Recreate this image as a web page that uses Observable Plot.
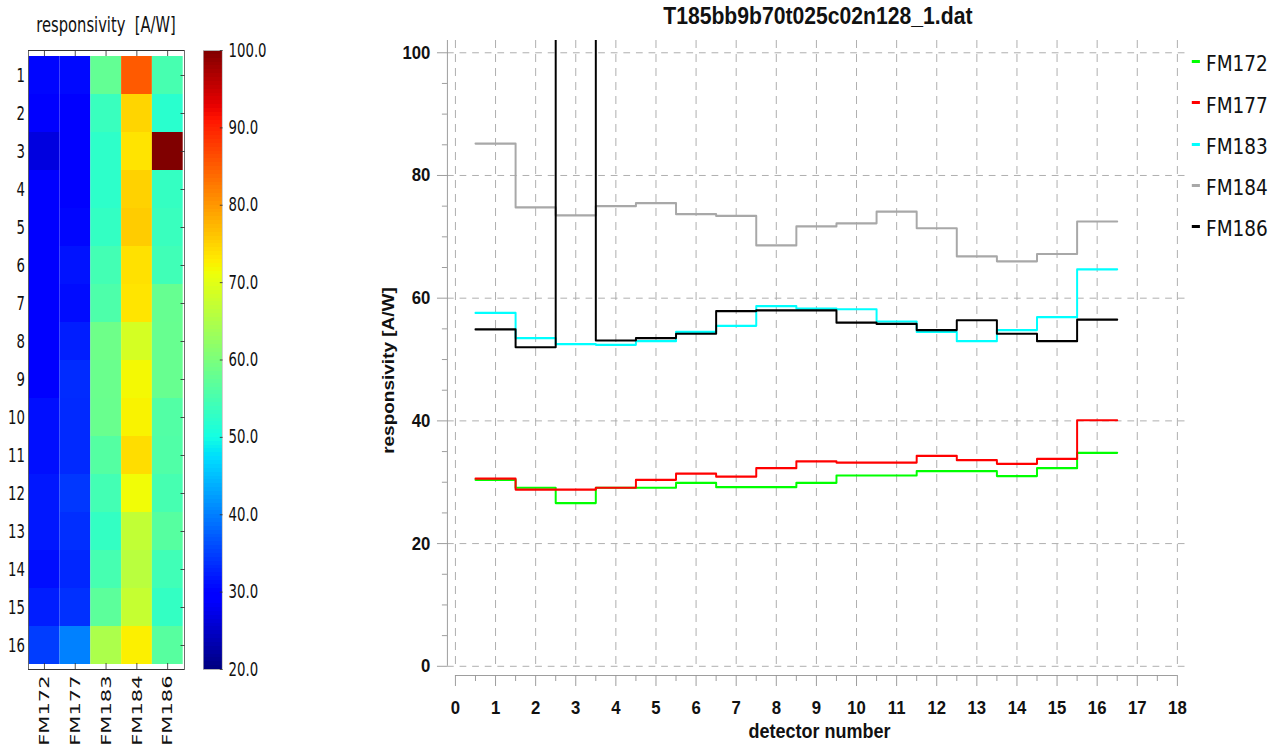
<!DOCTYPE html>
<html>
<head>
<meta charset="utf-8">
<script src="https://cdn.jsdelivr.net/npm/d3@7"></script>
<script src="https://cdn.jsdelivr.net/npm/@observablehq/plot@0.6"></script>
<style>
  html, body { margin: 0; padding: 0; background: #fff; }
  #page { position: relative; width: 1281px; height: 746px; overflow: hidden; background: #fff; }
  .panel { position: absolute; top: 0; height: 746px; transform-origin: 0 0; }
  .panel svg { position: absolute; top: 0; }
  .heat-title { position: absolute; left: 0; top: 15px; width: 303px; text-align: center;
    font: 21px/21px "DejaVu Sans", sans-serif; white-space: pre; color: #111; }
  .chart-title { position: absolute; left: 0; top: 5px; width: 973px; text-align: center;
    font: bold 23.5px/23.5px "Liberation Sans", Arial, sans-serif; color: #111; }
  .legend-swatch { position: absolute; width: 9px; height: 3px; }
  .legend-label { position: absolute; font: 20.5px/20.5px "DejaVu Sans", sans-serif; color: #111; white-space: nowrap; }
</style>
</head>
<body>
<div id="page">
  <div id="left" class="panel" style="left:0; width:400px; transform:scaleX(0.7);">
    <div class="heat-title">responsivity  [A/W]</div>
  </div>
  <div id="right" class="panel" style="left:380px; width:1001px; transform:scaleX(0.9);">
    <div class="chart-title">T185bb9b70t025c02n128_1.dat</div>
  </div>
</div>
<script>
// Flight models and their line colours
const models = ["FM172", "FM177", "FM183", "FM184", "FM186"];
const modelColors = ["#00ff00", "#ff0000", "#00ffff", "#a8a8a8", "#000000"];

// Detector numbers (rows of the map, steps of the profile plot)
const detectors = [1, 2, 3, 4, 5, 6, 7, 8, 9, 10, 11, 12, 13, 14, 15, 16];

// Responsivity per detector [A/W]
const fm172 = [30.4, 29.1, 26.6, 29.1, 29.1, 29.9, 29.2, 29.2, 29.9, 31.1, 31.1, 31.8, 31.8, 31.0, 32.3, 34.8];
const fm177 = [30.6, 28.8, 28.8, 29.1, 30.4, 31.4, 30.9, 32.3, 33.4, 33.2, 33.2, 34.3, 33.6, 33.0, 33.8, 40.1];
const fm183 = [57.6, 53.5, 52.5, 52.4, 53.0, 54.5, 55.5, 58.7, 58.3, 58.2, 56.2, 54.5, 53.0, 54.8, 56.9, 64.7];
const fm184 = [85.2, 74.8, 73.5, 75.0, 75.5, 73.7, 73.4, 68.6, 71.7, 72.2, 74.1, 71.4, 66.8, 66.0, 67.2, 72.5];
const fm186 = [54.9, 52.0, 130.0, 53.1, 53.5, 54.2, 57.9, 58.0, 58.0, 56.0, 55.8, 54.8, 56.4, 54.2, 53.0, 56.5];
const series = [fm172, fm177, fm183, fm184, fm186];

// Axis ticks
const colorbarTicks = [20, 30, 40, 50, 60, 70, 80, 90, 100];
const xTicks = [0, 1, 2, 3, 4, 5, 6, 7, 8, 9, 10, 11, 12, 13, 14, 15, 16, 17, 18];
const yTicks = [0, 20, 40, 60, 80, 100];

// Jet colour map (piecewise-linear channel segments)
const jetR = [[0, 0], [0.35, 0], [0.66, 1], [0.89, 1], [1, 0.5]];
const jetG = [[0, 0], [0.125, 0], [0.375, 1], [0.64, 1], [0.91, 0], [1, 0]];
const jetB = [[0, 0.5], [0.11, 1], [0.34, 1], [0.65, 0], [1, 0]];
function segment(stops, t) {
  for (let i = 1; i < stops.length; i++) {
    if (t <= stops[i][0]) {
      const [x0, y0] = stops[i - 1], [x1, y1] = stops[i];
      return y0 + (y1 - y0) * (t - x0) / (x1 - x0);
    }
  }
  return stops[stops.length - 1][1];
}
function jet(t) {
  const u = Math.max(0, Math.min(1, t));
  return d3.rgb(255 * segment(jetR, u), 255 * segment(jetG, u), 255 * segment(jetB, u)).formatHex();
}
const jetScale = {type: "linear", domain: [20, 100], interpolate: jet, clamp: true};

// Long table for the map: one cell per model and detector
const heatTable = models.flatMap((m, i) =>
  detectors.map((d, j) => ({model: m, det: d, value: series[i][j]})));

// Step table for the profile: each detector value spans det-0.5 .. det+0.5
const stepTable = models.flatMap((m, i) => {
  const pts = detectors.map((d, j) => ({model: m, x: d - 0.5, value: series[i][j]}));
  pts.push({model: m, x: detectors[detectors.length - 1] + 0.5, value: series[i][series[i].length - 1]});
  return pts;
});

const transparent = {background: "transparent", overflow: "visible"};

// ---------- left panel: detector map ----------
const left = document.getElementById("left");
const heat = Plot.plot({
  width: 400, height: 746,
  marginLeft: 40, marginRight: 137.1, marginTop: 50, marginBottom: 77,
  style: {...transparent, fontFamily: "'DejaVu Sans', sans-serif", fontSize: "19px", color: "#111"},
  x: {type: "band", domain: models, padding: 0, label: null},
  y: {type: "band", domain: detectors, padding: 0, label: null},
  color: jetScale,
  marks: [
    Plot.cell(heatTable, {x: "model", y: "det", fill: "value", inset: 0}),
    Plot.frame({stroke: "#333"}),
    Plot.axisX({anchor: "top", tickSize: 5, dy: 5, tickFormat: () => "", label: null, stroke: "#333"}),
    Plot.axisX({anchor: "bottom", tickSize: 6, dy: -6, tickFormat: () => "", label: null, stroke: "#333"}),
    Plot.axisX({anchor: "bottom", tickSize: 0, tickPadding: 6, tickRotate: -90, fontSize: 21, label: null}),
    Plot.axisY({anchor: "right", tickSize: 6, dx: -6, tickFormat: () => "", label: null, stroke: "#333"}),
    Plot.axisY({anchor: "left", tickSize: 0, tickPadding: 5, label: null})
  ]
});
heat.style.left = "0px";
left.appendChild(heat);

// colour bar
const levels = d3.range(20, 100, 0.5);
const bar = Plot.plot({
  width: 110, height: 746,
  marginLeft: 30, marginRight: 53, marginTop: 50, marginBottom: 77,
  style: {...transparent, fontFamily: "'DejaVu Sans', sans-serif", fontSize: "19px", color: "#111"},
  x: {domain: [0, 1], axis: null},
  y: {domain: [20, 100], label: null},
  color: jetScale,
  marks: [
    Plot.rect(levels, {x1: 0, x2: 1, y1: d => d, y2: d => d + 0.5, fill: d => d + 0.25, shapeRendering: "crispEdges"}),
    Plot.frame({stroke: "#b4b4b4"}),
    Plot.axisY(colorbarTicks, {anchor: "right", tickSize: 4, dx: -4, tickFormat: () => "", label: null, stroke: "#333"}),
    Plot.axisY(colorbarTicks, {anchor: "right", tickSize: 0, tickPadding: 9, tickFormat: d3.format(".1f"), label: null})
  ]
});
bar.style.left = "260px";
left.appendChild(bar);

// ---------- right panel: responsivity profile ----------
const right = document.getElementById("right");
const X_DOMAIN = [-0.2, 18.2];
const Y_DOMAIN = [-1.5, 102];
const xMinor = xTicks.slice(0, -1).map(v => v + 0.5);
const yMinor = d3.range(0, 101, 5).filter(v => v % 20 !== 0);

const chart = Plot.plot({
  width: 1001, height: 746,
  marginLeft: 74.4, marginRight: 106.6, marginTop: 40, marginBottom: 71,
  style: {...transparent, fontFamily: "'Liberation Sans', Arial, sans-serif", color: "#111"},
  x: {domain: X_DOMAIN, label: null},
  y: {domain: Y_DOMAIN, label: null},
  color: {type: "ordinal", domain: models, range: modelColors},
  marks: [
    // dashed grid
    Plot.ruleY(yTicks, {stroke: "#ababab", strokeDasharray: "7.5,6.5"}),
    Plot.ruleX(xTicks, {stroke: "#ababab", strokeDasharray: "8,6", insetBottom: 5}),
    // axis lines
    Plot.ruleX([X_DOMAIN[0]], {y1: 0, y2: Y_DOMAIN[1], stroke: "#999"}),
    Plot.ruleY([Y_DOMAIN[0]], {x1: xTicks[0], x2: xTicks[xTicks.length - 1], stroke: "#999"}),
    // y axis ticks and labels
    Plot.axisY(yTicks, {anchor: "left", tickSize: 11.1, tickFormat: () => "", label: null, stroke: "#999"}),
    Plot.axisY(yMinor, {anchor: "left", tickSize: 5.6, tickFormat: () => "", label: null, stroke: "#999"}),
    Plot.axisY(yTicks, {anchor: "left", tickSize: 0, tickPadding: 18.9, fontSize: 18.6, fontWeight: "bold", label: null}),
    // x axis ticks and labels
    Plot.axisX(xTicks, {anchor: "bottom", tickSize: 11, tickFormat: () => "", label: null, stroke: "#999"}),
    Plot.axisX(xMinor, {anchor: "bottom", tickSize: 6, tickFormat: () => "", label: null, stroke: "#999"}),
    Plot.axisX(xTicks, {anchor: "bottom", tickSize: 0, tickPadding: 25, fontSize: 18.6, fontWeight: "bold", label: null}),
    // responsivity steps
    Plot.line(stepTable, {x: "x", y: "value", z: "model", stroke: "model", curve: "step-after", strokeWidth: 2.2, clip: true}),
    // axis titles
    Plot.text(["detector number"], {text: d => d, frameAnchor: "bottom", textAnchor: "middle", lineAnchor: "middle",
      dx: 3.4, dy: 56, fontSize: 20, fontWeight: "bold"}),
    Plot.text(["responsivity [A/W]"], {text: d => d, frameAnchor: "left", textAnchor: "middle", lineAnchor: "middle",
      rotate: -90, dx: -65.5, dy: 12.5, fontSize: 19, fontWeight: "bold"})
  ]
});
chart.style.left = "0px";
right.appendChild(chart);

// legend
models.forEach((m, i) => {
  const centerY = 61.7 + 41.25 * i;
  const sw = document.createElement("div");
  sw.className = "legend-swatch";
  sw.style.left = "902px";
  sw.style.top = (centerY - 1.5) + "px";
  sw.style.background = modelColors[i];
  right.appendChild(sw);
  const lb = document.createElement("div");
  lb.className = "legend-label";
  lb.style.left = "917.8px";
  lb.style.top = (71.7 + 41.25 * i - 17.3) + "px";
  lb.textContent = m;
  right.appendChild(lb);
});
</script>
</body>
</html>
